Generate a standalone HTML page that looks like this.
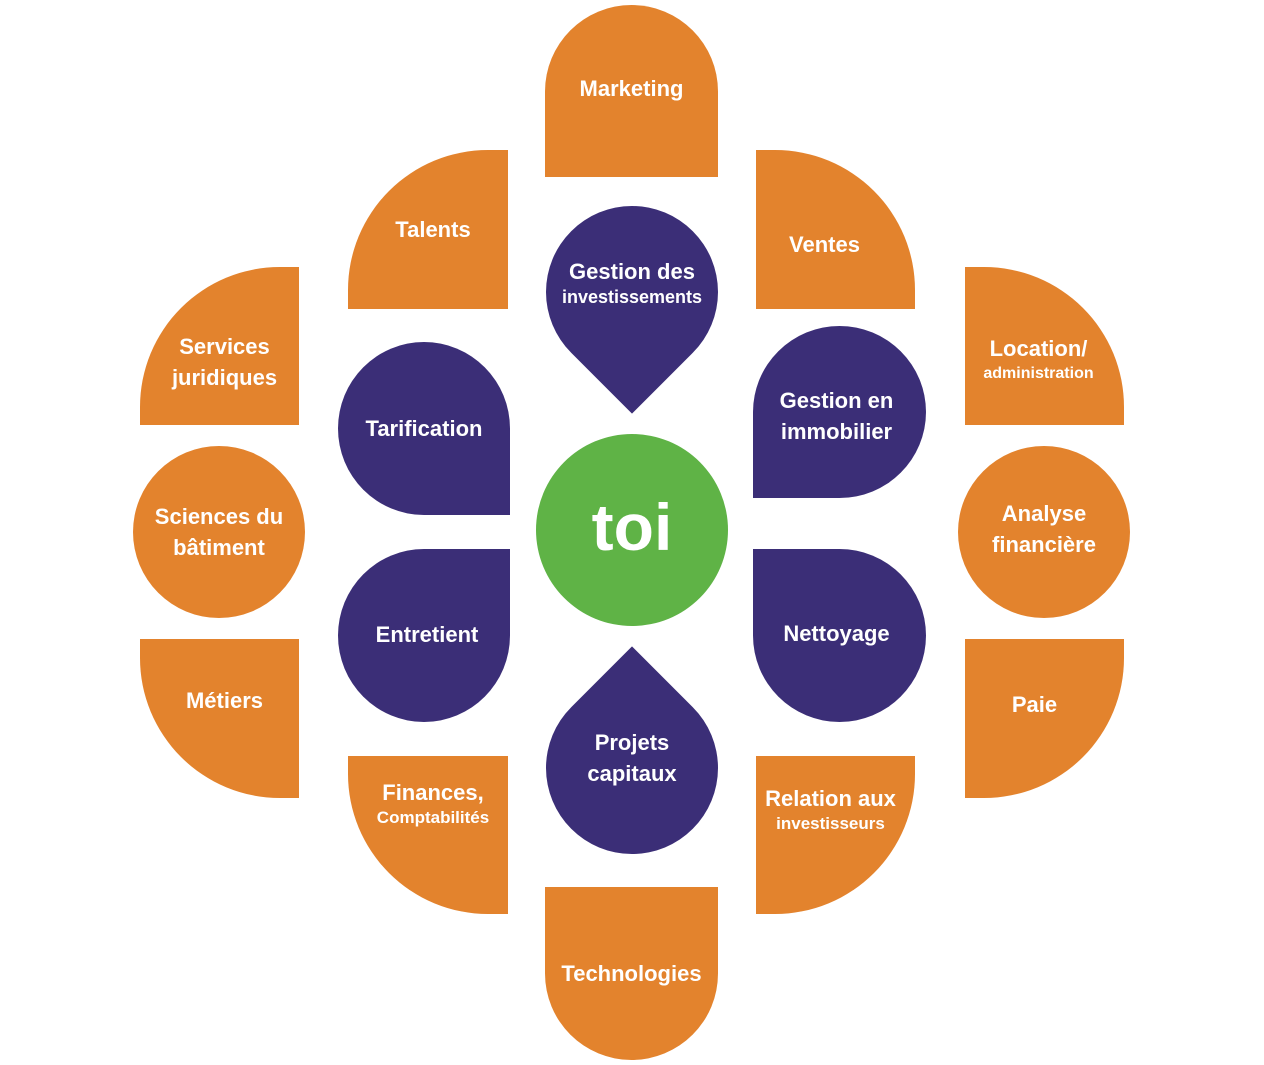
<!DOCTYPE html>
<html><head><meta charset="utf-8"><style>
body{margin:0;width:1264px;height:1065px;background:#fff;position:relative;overflow:hidden;font-family:"Liberation Sans",sans-serif;}
.s{position:absolute;display:flex;align-items:center;justify-content:center;text-align:center;color:#fff;font-weight:bold;font-size:22px;line-height:31px;}
.o{background:#e3832d}.p{background:#3b2e77}
.sm{font-size:17px;line-height:20px;display:block}
.t{position:absolute;color:#fff;font-weight:bold;font-size:22px;line-height:31px;text-align:center;display:flex;align-items:center;justify-content:center}
.drop{position:absolute;width:172px;height:172px;background:#3b2e77;transform:rotate(45deg);}
</style></head><body>
<div class="s o" style="left:545px;top:5px;width:173px;height:172px;border-radius:87px 87px 0 0;padding-bottom:6px;box-sizing:border-box">Marketing</div>
<div class="s o" style="left:545px;top:887px;width:173px;height:173px;border-radius:0 0 87px 87px">Technologies</div>
<div class="s o" style="left:348px;top:150px;width:160px;height:159px;border-radius:140px 0 0 0;padding-left:10px;box-sizing:border-box">Talents</div>
<div class="s o" style="left:756px;top:150px;width:159px;height:159px;border-radius:0 140px 0 0;padding-right:22px;padding-top:30px;box-sizing:border-box">Ventes</div>
<div class="s o" style="left:140px;top:267px;width:159px;height:158px;border-radius:140px 0 0 0;padding-top:32px;padding-left:10px;box-sizing:border-box">Services<br>juridiques</div>
<div class="s o" style="left:965px;top:267px;width:159px;height:158px;border-radius:0 140px 0 0;padding-top:24px;padding-right:12px;box-sizing:border-box;flex-direction:column"><span>Location/</span><span class="sm" style="font-size:16px">administration</span></div>
<div class="s o" style="left:133px;top:446px;width:172px;height:172px;border-radius:50%">Sciences du<br>bâtiment</div>
<div class="s o" style="left:958px;top:446px;width:172px;height:172px;border-radius:50%;padding-bottom:6px;box-sizing:border-box">Analyse<br>financière</div>
<div class="s o" style="left:140px;top:639px;width:159px;height:159px;border-radius:0 0 0 140px;padding-bottom:36px;padding-left:10px;box-sizing:border-box">Métiers</div>
<div class="s o" style="left:965px;top:639px;width:159px;height:159px;border-radius:0 0 140px 0;padding-bottom:28px;padding-right:20px;box-sizing:border-box">Paie</div>
<div class="s o" style="left:348px;top:756px;width:160px;height:158px;border-radius:0 0 0 140px;padding-bottom:66px;padding-left:10px;box-sizing:border-box;flex-direction:column"><span>Finances,</span><span class="sm">Comptabilités</span></div>
<div class="s o" style="left:756px;top:756px;width:159px;height:158px;border-radius:0 0 140px 0;padding-bottom:54px;padding-right:10px;box-sizing:border-box;flex-direction:column"><span>Relation aux</span><span class="sm">investisseurs</span></div>

<div class="drop" style="left:546px;top:206px;border-radius:50% 50% 0 50%"></div>
<div class="t" style="left:546px;top:206px;width:172px;height:172px;flex-direction:column;padding-bottom:22px;box-sizing:border-box"><span>Gestion des</span><span class="sm" style="font-size:18px">investissements</span></div>
<div class="drop" style="left:546px;top:682px;border-radius:0 50% 50% 50%"></div>
<div class="t" style="left:546px;top:682px;width:172px;height:172px;padding-bottom:20px;box-sizing:border-box">Projets<br>capitaux</div>

<div class="s p" style="left:338px;top:342px;width:172px;height:173px;border-radius:50% 50% 0 50%">Tarification</div>
<div class="s p" style="left:753px;top:326px;width:173px;height:172px;border-radius:50% 50% 50% 0;padding-top:8px;padding-right:6px;box-sizing:border-box">Gestion en<br>immobilier</div>
<div class="s p" style="left:338px;top:549px;width:172px;height:173px;border-radius:50% 0 50% 50%;padding-bottom:2px;padding-left:6px;box-sizing:border-box">Entretient</div>
<div class="s p" style="left:753px;top:549px;width:173px;height:173px;border-radius:0 50% 50% 50%;padding-bottom:4px;padding-right:6px;box-sizing:border-box">Nettoyage</div>

<div class="s" style="left:536px;top:434px;width:192px;height:192px;border-radius:50%;background:#5fb346;font-size:66px;line-height:66px;padding-bottom:6px;box-sizing:border-box">toi</div>
</body></html>
